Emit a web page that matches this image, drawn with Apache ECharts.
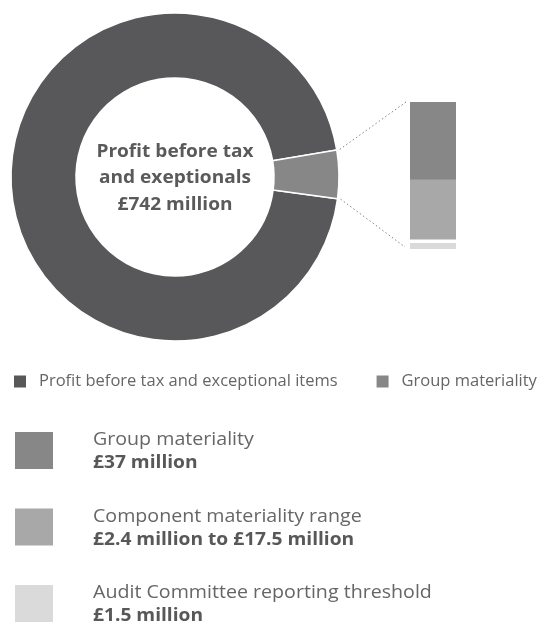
<!DOCTYPE html>
<html>
<head>
<meta charset="utf-8">
<script src="https://cdn.jsdelivr.net/npm/echarts@6/dist/echarts.min.js"></script>
<style>
  html, body { margin: 0; padding: 0; background: #ffffff; }
  #chart { width: 543px; height: 625px; }
</style>
</head>
<body>
<div id="chart"></div>
<script>
// Ring: profit before tax vs. group materiality (£ million)
const sliceNames = ['Profit before tax and exceptional items', 'Group materiality'];
const sliceValues = [742, 37];
const sliceColors = ['#58585a', '#878787'];

// Text in the hole of the ring
const centreLines = ['Profit before tax', 'and exeptionals', '£742 million'];

// Materiality levels in the zoomed-in column (£ million), tallest first
const levelNames = ['Group materiality', 'Component materiality upper', 'Component materiality lower', 'Audit Committee reporting threshold'];
const levelValues = [37, 17.5, 2.4, 1.5];
const levelColors = ['#878787', '#a8a8a8', '#ffffff', '#dadada'];

// Key rows under the chart
const keyTitles = ['Group materiality', 'Component materiality range', 'Audit Committee reporting threshold'];
const keyAmounts = ['£37 million', '£2.4 million to £17.5 million', '£1.5 million'];
const keyColors = ['#878787', '#a8a8a8', '#dadada'];

const FONT = '"Open Sans"';
const CX = 175, CY = 177, R_OUT = 164, R_IN = 99;
const START = 352.4;
const BAR_LEFT = 410, BAR_TOP = 102, BAR_W = 46, BAR_H = 147;
const KEY_TOP = 432, KEY_STEP = 76.5;

const chart = echarts.init(document.getElementById('chart'), null, { renderer: 'canvas' });

const barSeries = levelValues.map((v, i) => ({
  type: 'bar',
  name: levelNames[i],
  data: [v],
  barWidth: BAR_W,
  barGap: '-100%',
  itemStyle: { color: levelColors[i] },
  silent: true,
  z: 2 + i,
  legendHoverLink: false
}));

const keyGraphics = [];
keyTitles.forEach((t, i) => {
  const top = KEY_TOP + i * KEY_STEP;
  keyGraphics.push({
    type: 'rect', x: 15, y: top,
    shape: { width: 38, height: 37 },
    style: { fill: keyColors[i] }, silent: true
  });
  keyGraphics.push({
    type: 'text', x: 93, y: top - 1, scaleX: 1.09,
    style: {
      text: t, font: '18px ' + FONT, fill: '#666666',
      verticalAlign: 'top'
    }, silent: true
  });
  keyGraphics.push({
    type: 'text', x: 93, y: top + 22, scaleX: 1.065,
    style: {
      text: keyAmounts[i], font: 'bold 18px ' + FONT, fill: '#58585a',
      verticalAlign: 'top'
    }, silent: true
  });
});

chart.setOption({
  animation: false,
  legend: {
    data: sliceNames,
    left: 14, top: 373, padding: 0,
    icon: 'rect', itemWidth: 12, itemHeight: 12, itemGap: 39,
    selectedMode: false,
    itemStyle: { borderWidth: 0 },
    textStyle: { fontFamily: 'Open Sans', fontSize: 16.5, color: '#666666', padding: [0, 0, 0, 8] }
  },
  grid: { left: BAR_LEFT, top: BAR_TOP, width: BAR_W, height: BAR_H },
  xAxis: { type: 'category', data: ['level'], show: false },
  yAxis: { type: 'value', min: 0, max: levelValues[0], show: false },
  series: [
    {
      type: 'pie',
      center: [CX, CY],
      radius: [R_IN, R_OUT],
      startAngle: START,
      clockwise: true,
      label: { show: false },
      labelLine: { show: false },
      emphasis: { disabled: true },
      silent: true,
      itemStyle: { borderColor: '#ffffff', borderWidth: 1.5 },
      data: sliceNames.map((n, i) => ({ name: n, value: sliceValues[i], itemStyle: { color: sliceColors[i] } }))
    }
  ].concat(barSeries),
  graphic: [
    {
      type: 'text', x: CX, y: CY + 1, scaleX: 1.06,
      style: {
        text: centreLines.join('\n'),
        font: 'bold 18px ' + FONT,
        fill: '#5a5a5a',
        align: 'center', verticalAlign: 'middle',
        lineHeight: 26.5
      }, silent: true
    }
  ].concat(keyGraphics)
});

// Dotted leader lines from the materiality slice to the column
function drawLeaders() {
  const total = sliceValues.reduce((a, b) => a + b, 0);
  const upperDeg = START - 360 * sliceValues[0] / total;
  const lowerDeg = START - 360;
  const r = R_OUT + 3;
  const pt = d => [CX + r * Math.cos(d * Math.PI / 180), CY - r * Math.sin(d * Math.PI / 180)];
  const topY = chart.convertToPixel({ yAxisIndex: 0 }, levelValues[0]);
  const botY = chart.convertToPixel({ yAxisIndex: 0 }, 0);
  const p1 = pt(upperDeg), p2 = pt(lowerDeg);
  const lineStyle = { stroke: '#808080', lineWidth: 1, lineDash: [1.5, 2.5] };
  chart.setOption({
    graphic: [
      { id: 'leadTop', type: 'line', silent: true, shape: { x1: p1[0], y1: p1[1], x2: BAR_LEFT - 4, y2: topY }, style: lineStyle },
      { id: 'leadBot', type: 'line', silent: true, shape: { x1: p2[0], y1: p2[1], x2: BAR_LEFT - 5, y2: botY - 2 }, style: lineStyle }
    ]
  });
}
drawLeaders();
</script>
</body>
</html>
